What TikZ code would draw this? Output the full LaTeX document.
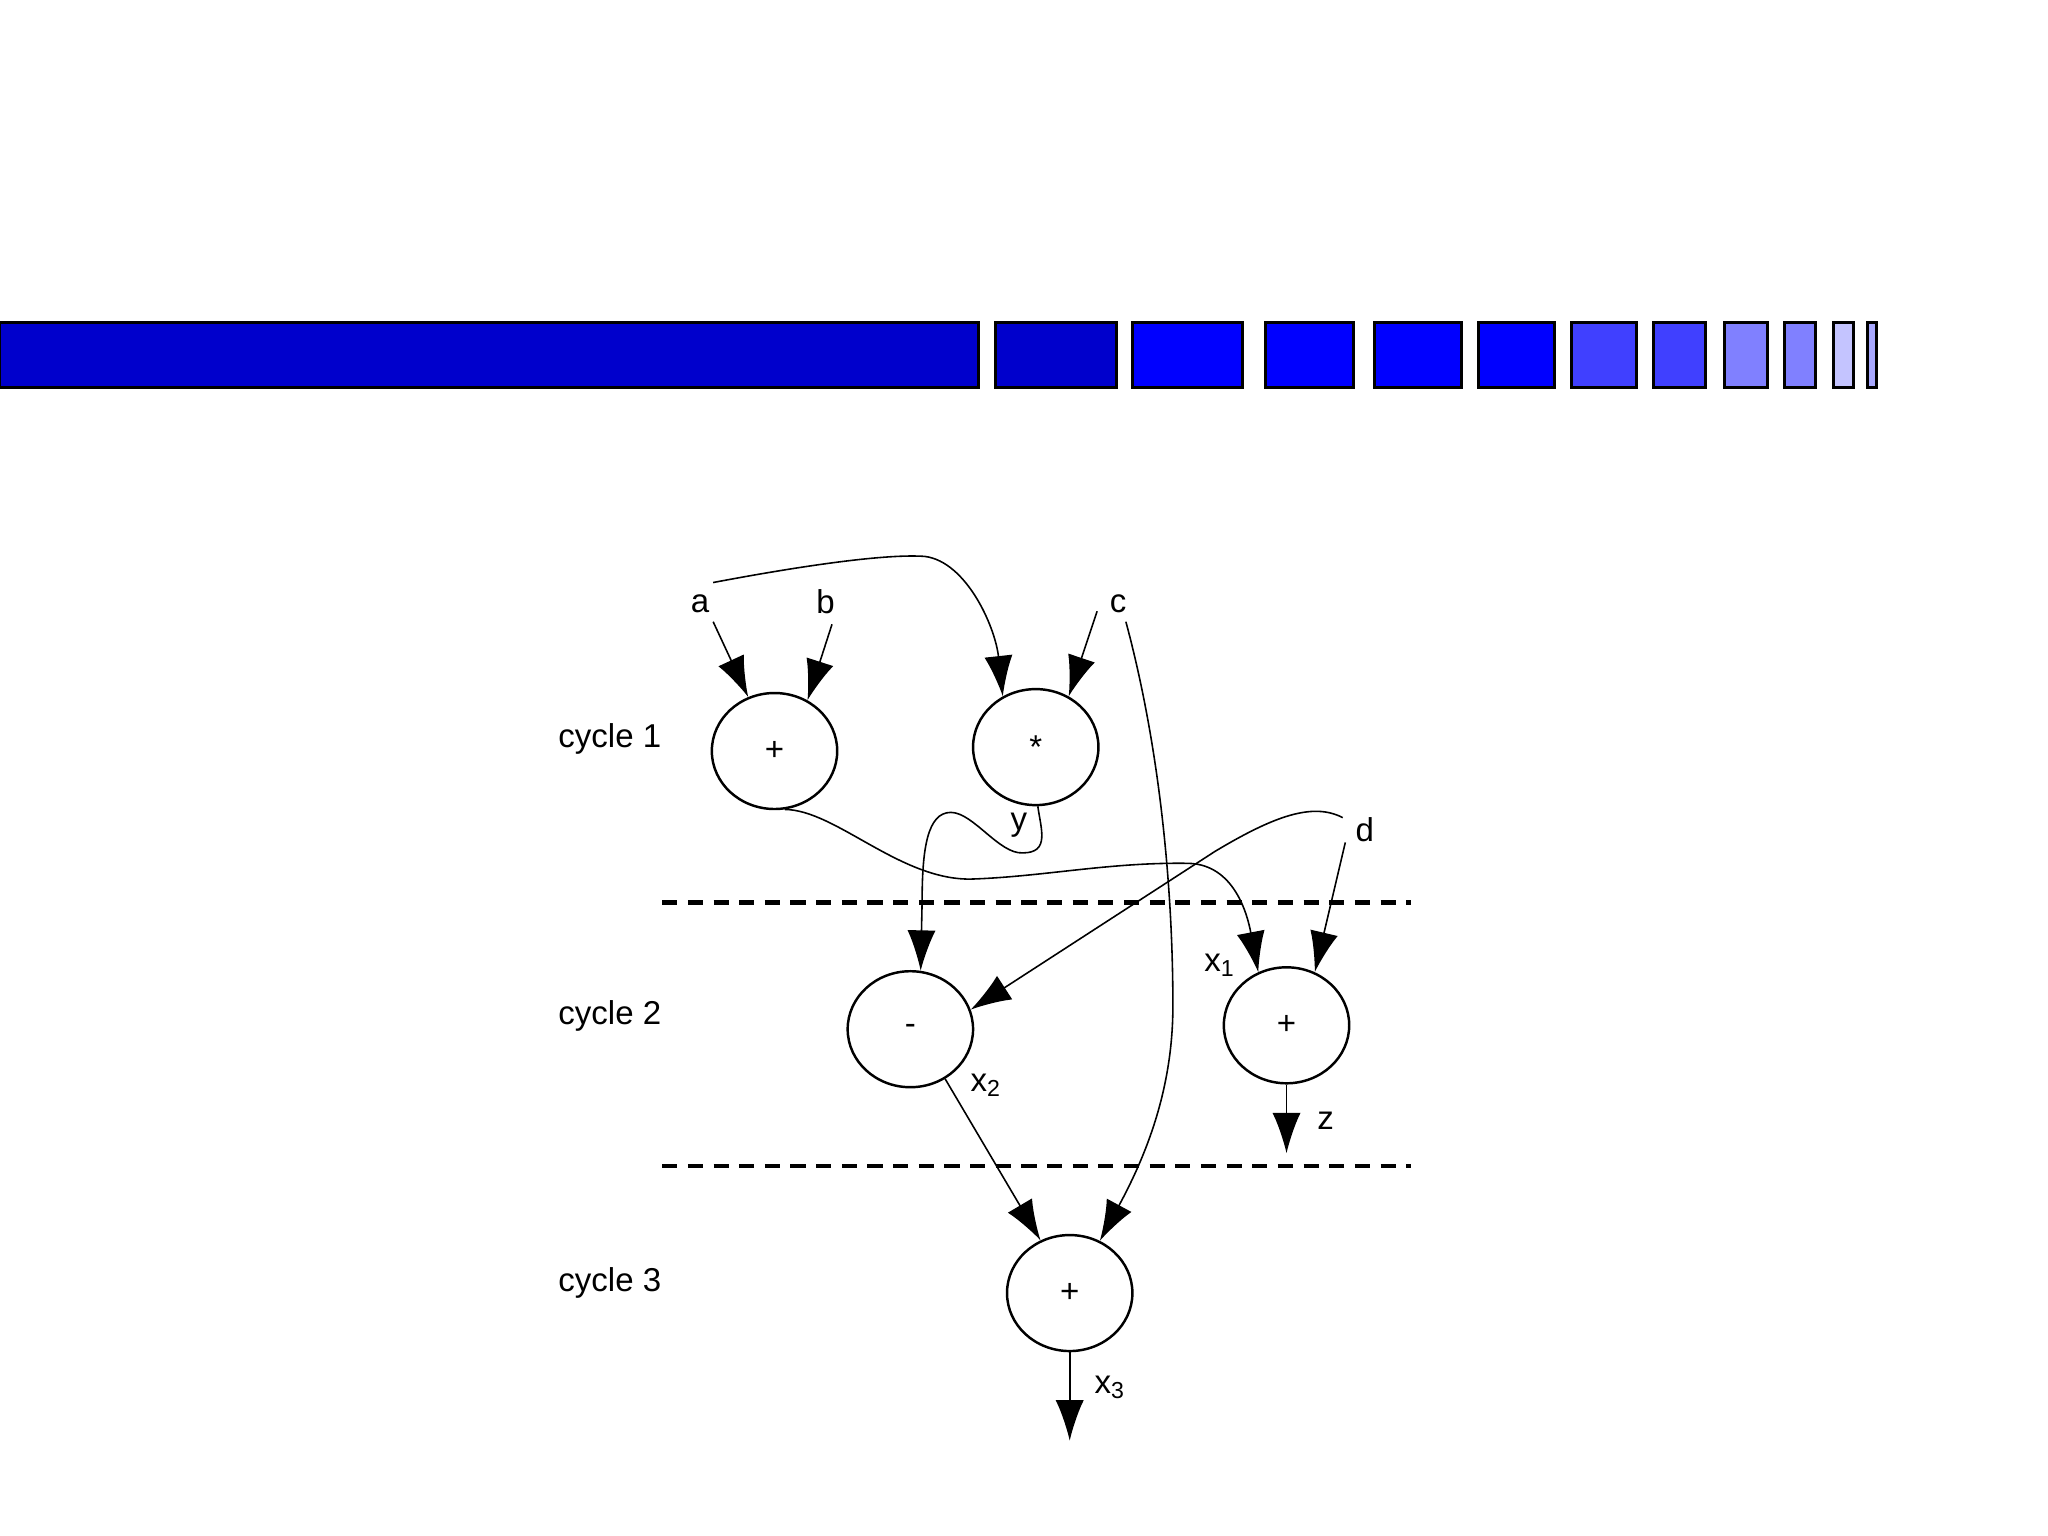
\documentclass[tikz,border=0pt]{standalone}
\usepackage{fontspec}
\setmainfont{Liberation Sans}
\usetikzlibrary{arrows.meta,shapes.geometric}
\definecolor{barA}{HTML}{0000CC}
\definecolor{barB}{HTML}{0000FF}
\definecolor{barC}{HTML}{4040FF}
\definecolor{barD}{HTML}{8080FF}
\definecolor{barE}{HTML}{C4C4FF}
\definecolor{barF}{HTML}{A8A8FF}
\begin{document}
\begin{tikzpicture}[x=0.0130612cm,y=-0.0130612cm,
 op/.style={ellipse,draw,line width=0.7pt,minimum width=1.254cm,minimum height=1.16cm,inner sep=0pt,font=\fontsize{9.4}{11}\selectfont},
 lbl/.style={inner sep=0pt,font=\fontsize{9.4}{11}\selectfont},
 arr/.style={line width=0.45pt,-{Latex[length=11.5pt,width=8pt]}},
 cut/.style={line width=1.2pt,dash pattern=on 4.3pt off 3pt},
 bar/.style={draw=black,line width=0.85pt}]
\useasboundingbox[fill=white] (0,0) rectangle (1568,1176);
% top bar
\filldraw[bar,fill=barA] (0,247) rectangle (749,297);
\filldraw[bar,fill=barA] (762,247) rectangle (855,297);
\filldraw[bar,fill=barB] (867,247) rectangle (951,297);
\filldraw[bar,fill=barB] (969,247) rectangle (1036,297);
\filldraw[bar,fill=barB] (1052,247) rectangle (1119,297);
\filldraw[bar,fill=barB] (1132,247) rectangle (1190,297);
\filldraw[bar,fill=barC] (1203,247) rectangle (1253,297);
\filldraw[bar,fill=barC] (1266,247) rectangle (1306,297);
\filldraw[bar,fill=barD] (1320,247) rectangle (1353,297);
\filldraw[bar,fill=barD] (1366,247) rectangle (1390,297);
\filldraw[bar,fill=barE] (1404,247) rectangle (1419,297);
\filldraw[bar,fill=barF] (1430,247) rectangle (1437,297);
% cycle separators
\draw[cut] (507,691) -- (1080,691);
\draw[cut] (507,893) -- (1080,893);
% cycle labels
\node[lbl,anchor=west] (cy1) at (427,566) {cycle 1};
\node[lbl,anchor=west] (cy2) at (427,778) {cycle 2};
\node[lbl,anchor=west] (cy3) at (427,982) {cycle 3};
% operation nodes
\node[op] (p1) at (593,575) {+};
\node[op] (mul) at (793,572) {\raisebox{-0.35em}{*}};
\node[op] (mi) at (697,788) {-};
\node[op] (p2) at (985,785) {+};
\node[op] (p3) at (819,990) {+};
% labels
\node[lbl] (la) at (536,462) {a};
\node[lbl] (lb) at (632,461) {b};
\node[lbl] (lc) at (856,462) {c};
\node[lbl] (ld) at (1045,635) {d};
\node[lbl] (ly) at (780,632) {y};
\node[lbl] (lx1) at (934,739) {x\textsubscript{1}};
\node[lbl] (lx2) at (755,831) {x\textsubscript{2}};
\node[lbl] (lz) at (1015,858) {z};
\node[lbl] (lx3) at (850,1062) {x\textsubscript{3}};
% free ends
\coordinate (sa) at (546,476);
\coordinate (sb) at (637,478);
\coordinate (sc) at (840,468);
\coordinate (sa2) at (546,446);
\coordinate (sc2) at (862,476);
\coordinate (sd) at (1028,626);
\coordinate (sd2) at (1030,645);
\coordinate (ez) at (985,883);
\coordinate (ex3) at (819,1103);
% connectors
\draw[arr] (sa) -- (p1.116);
\draw[arr] (sb) -- (p1.57);
\draw[arr] (sc) -- (mul.57);
\draw[arr] (sa2) .. controls (620,432) and (680,424) .. (708,426)
  .. controls (740,430) and (762,480) .. (mul.123);
\draw[arr] (sc2) .. controls (890,580) and (898,690) .. (898,770)
  .. controls (898,830) and (880,880) .. (p3.60);
\draw[arr] (mul.-88) .. controls (797,635) and (804,653) .. (783,653)
  .. controls (765,654) and (745,622) .. (728,622)
  .. controls (710,622) and (706,650) .. (706,690) -- (mi.80);
\draw[arr] (p1.-80) .. controls (640,620) and (690,675) .. (745,673)
  .. controls (800,671) and (850,660) .. (910,661)
  .. controls (945,662) and (955,700) .. (p2.118);
\draw[arr] (sd) .. controls (1005,614) and (975,625) .. (930,652) -- (mi.18);
\draw[arr] (sd2) -- (p2.62);
\draw[arr] (p2.south) -- (ez);
\draw[arr] (mi.-55) -- (p3.119);
\draw[arr] (p3.south) -- (ex3);
\end{tikzpicture}
\end{document}
